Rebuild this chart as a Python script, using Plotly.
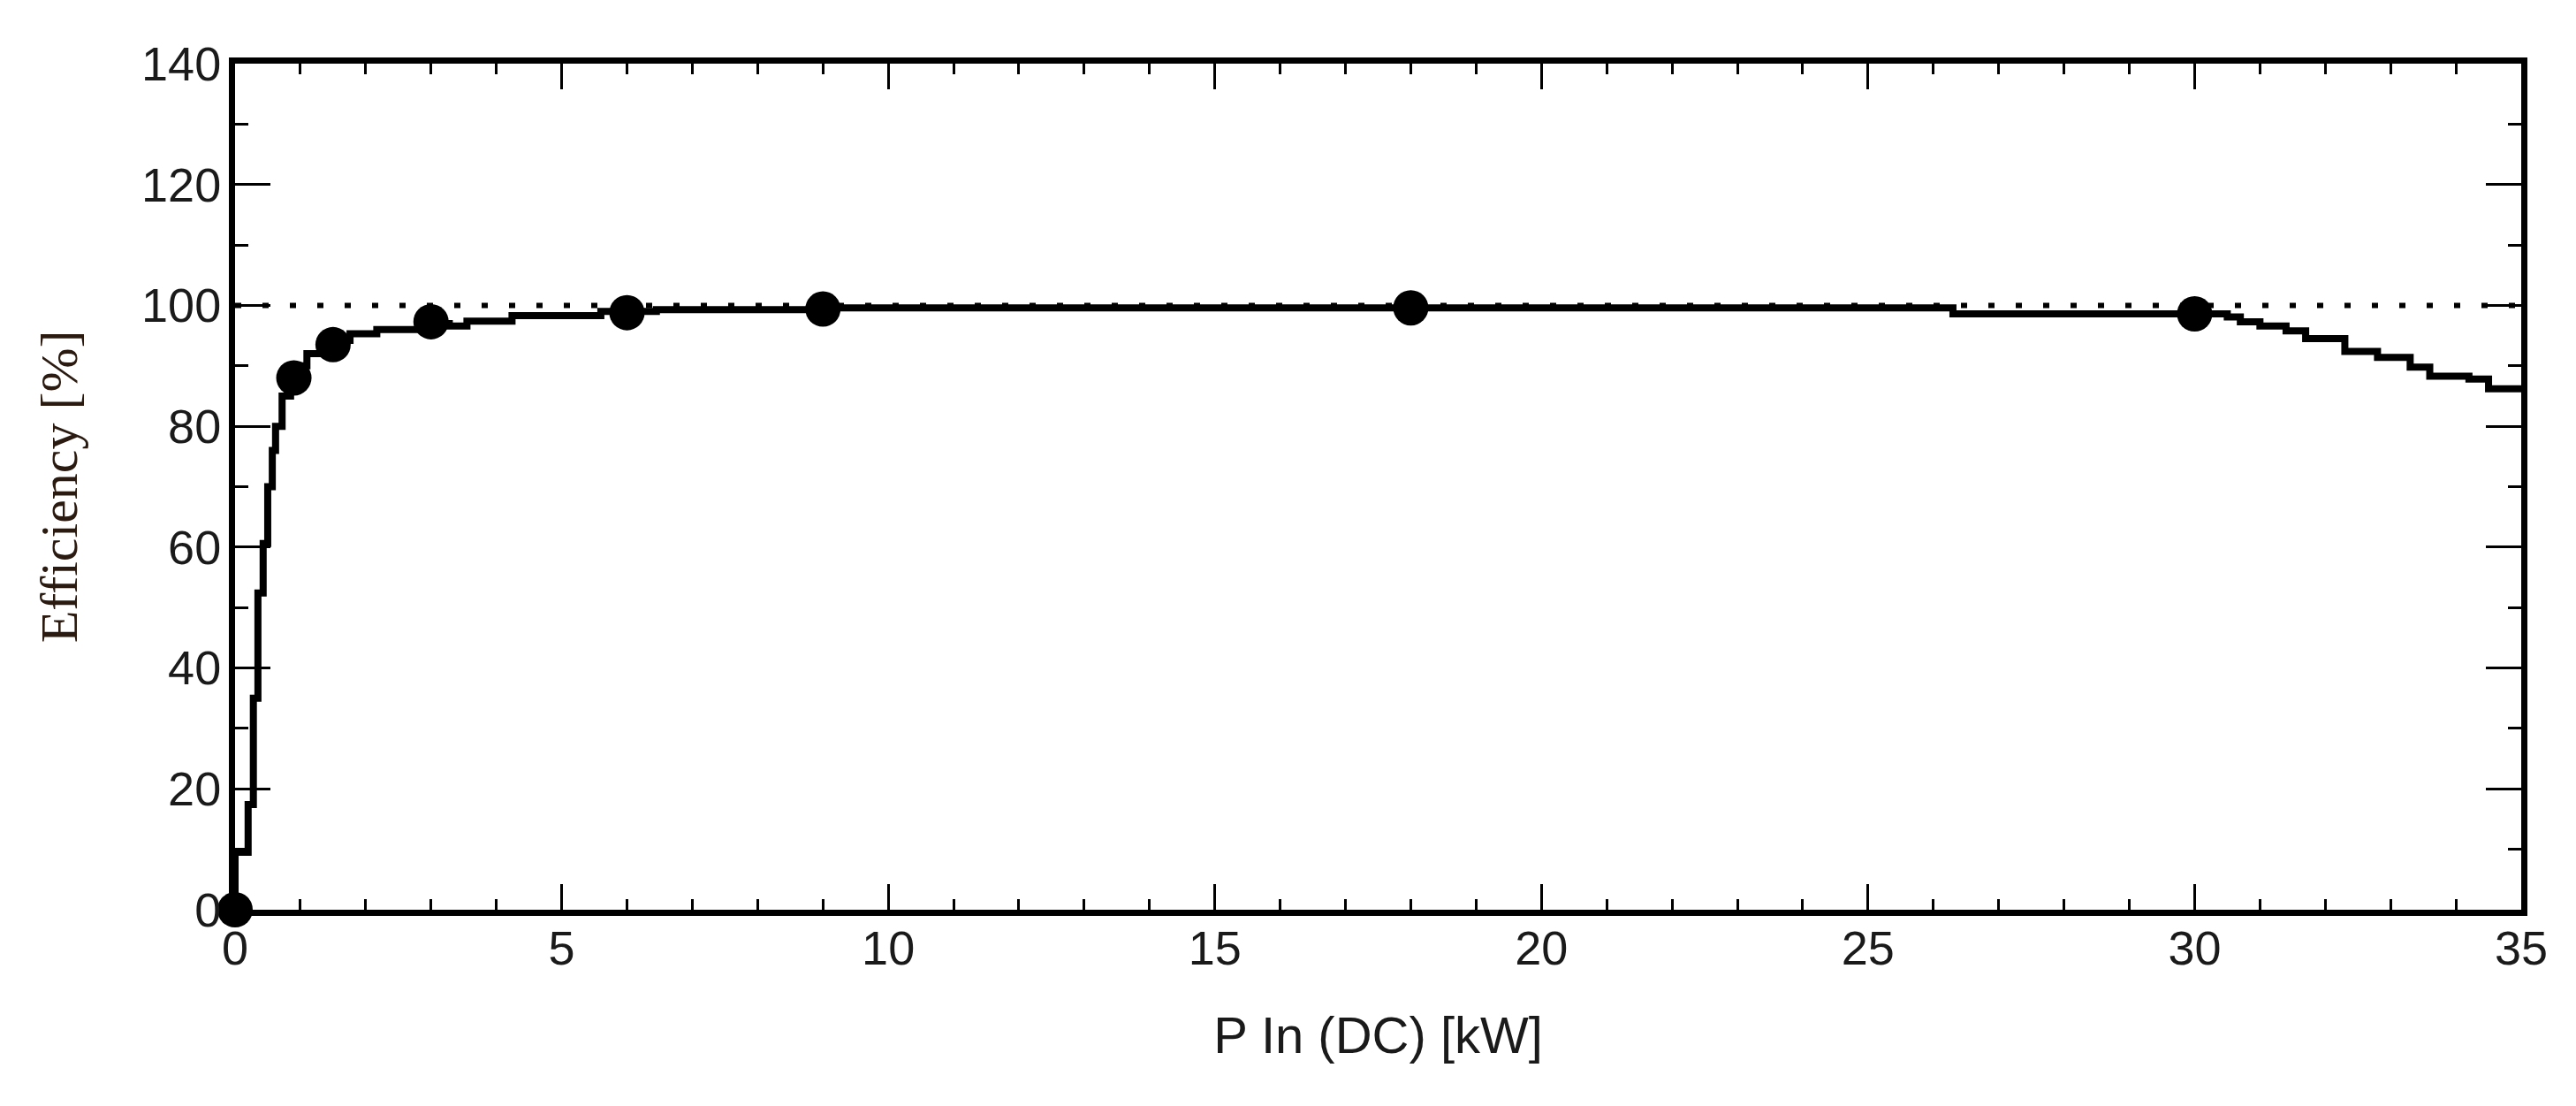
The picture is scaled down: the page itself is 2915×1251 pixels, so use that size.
import plotly.graph_objects as go

# Efficiency curve (step outline): x = end of each step [kW], y = level [%]
curve_x = [0, 0.2, 0.28, 0.35, 0.43, 0.5, 0.57, 0.62, 0.72, 0.85, 0.95, 1.1, 1.3, 1.55,
           1.76, 2.17, 2.86, 3.28, 3.55, 4.24, 5.6, 6.45, 8.95, 26.3, 30.5, 30.7, 31.0,
           31.4, 31.7, 32.3, 32.8, 33.3, 33.6, 34.2, 34.5, 35.0]
curve_y = [0, 9.5, 17.4, 35, 52.4, 60.6, 70, 76, 80, 85, 88.5, 90, 92, 93.5,
           94.2, 95.3, 96.0, 97.0, 96.6, 97.4, 98.3, 99.0, 99.3, 99.6, 98.6, 98.1, 97.3,
           96.6, 95.8, 94.5, 92.4, 91.4, 89.8, 88.3, 87.8, 86.2]

# Measured points
point_x = [0, 0.9, 1.5, 3, 6, 9, 18, 30]
point_y = [0, 88, 93.5, 97.3, 98.8, 99.4, 99.6, 98.6]

# Reference 100 % line
ref_x = [0, 35]
ref_y = [100, 100]

fig = go.Figure()
fig.add_trace(go.Scatter(x=ref_x, y=ref_y, mode="lines",
                         line=dict(color="black", width=6, dash="7px,24px"),
                         hoverinfo="skip", showlegend=False))
fig.add_trace(go.Scatter(x=curve_x, y=curve_y, mode="lines",
                         line=dict(color="black", width=8, shape="vh"),
                         showlegend=False))
fig.add_trace(go.Scatter(x=point_x, y=point_y, mode="markers",
                         marker=dict(color="black", size=40, symbol="circle"),
                         showlegend=False, cliponaxis=False))

tick_font = dict(family="Liberation Sans, Arial, sans-serif", size=54, color="#1a1a1a")

fig.update_layout(
    width=2915, height=1251,
    paper_bgcolor="white", plot_bgcolor="white",
    margin=dict(l=258, r=70, t=64, b=230),
    showlegend=False,
    xaxis=dict(
        range=[0, 35], tickmode="linear", tick0=0, dtick=5,
        showgrid=False, zeroline=False,
        showline=True, linecolor="black", linewidth=7, mirror="ticks",
        ticks="inside", ticklen=29, tickwidth=3, tickcolor="black",
        minor=dict(dtick=1, ticks="inside", ticklen=12, tickwidth=3, tickcolor="black", showgrid=False),
        tickfont=tick_font, ticklabelstandoff=-10,
        title=dict(text="P In (DC) [kW]", standoff=52,
                   font=dict(family="Liberation Sans, Arial, sans-serif", size=58, color="#1a1a1a")),
    ),
    yaxis=dict(
        range=[0, 140], tickmode="linear", tick0=0, dtick=20,
        showgrid=False, zeroline=False,
        showline=True, linecolor="black", linewidth=7, mirror="ticks",
        ticks="inside", ticklen=40, tickwidth=3, tickcolor="black",
        minor=dict(dtick=10, ticks="inside", ticklen=15, tickwidth=3, tickcolor="black", showgrid=False),
        tickfont=tick_font, ticklabelstandoff=-2,
        title=dict(text="Efficiency [%]", standoff=56,
                   font=dict(family="Liberation Serif, Times New Roman, serif", size=60, color="#2a1a10")),
    ),
)

fig.write_html("out.html")
